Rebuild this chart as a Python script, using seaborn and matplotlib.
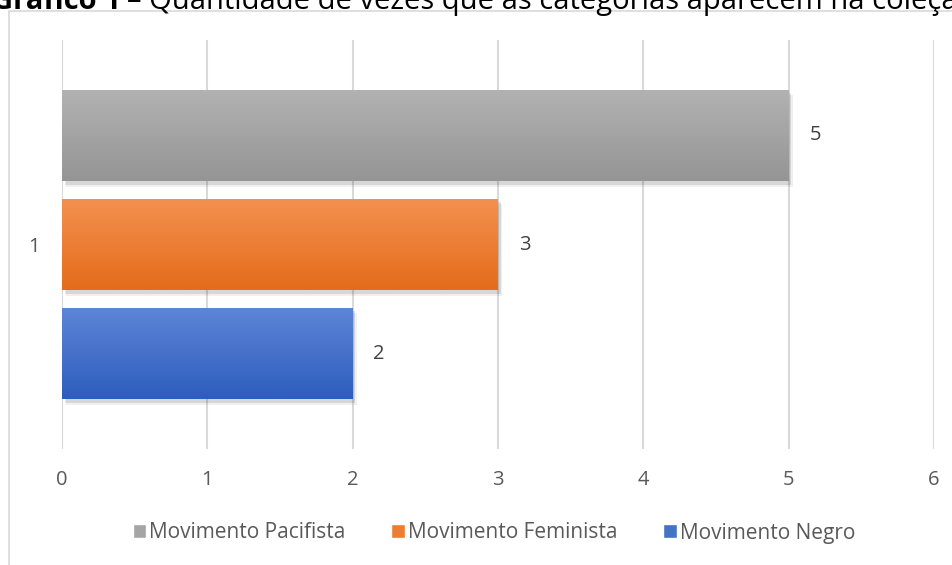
#!/usr/bin/env python3
import numpy as np
import pandas as pd
import matplotlib
matplotlib.use("Agg")
import matplotlib.pyplot as plt
import matplotlib.patheffects as pe
from matplotlib.patches import Rectangle
from matplotlib.colors import LinearSegmentedColormap
import seaborn as sns

category = ["1", "1", "1"]
series = ["Movimento Pacifista", "Movimento Feminista", "Movimento Negro"]
counts = [5, 3, 2]
colors = ["#A5A5A5", "#ED7D31", "#4472C4"]
grad_top = ["#B2B2B2", "#F4914F", "#5D86D7"]
grad_bottom = ["#959595", "#E46C1B", "#2D5DBD"]
xticks = [0, 1, 2, 3, 4, 5, 6]

df = pd.DataFrame({"Categoria": category, "Série": series, "Quantidade": counts})

sns.set_style("white")
plt.rcParams["font.family"] = ["Open Sans", "DejaVu Sans"]

fig = plt.figure(figsize=(9.52, 5.65), dpi=100)
ax = fig.add_axes([62 / 952, 1 - 449 / 565, (934 - 62) / 952, (449 - 40) / 565])

sns.barplot(
    data=df, y="Categoria", x="Quantidade", hue="Série",
    hue_order=series, palette=colors, orient="h",
    gap=0.16, ax=ax, errorbar=None, saturation=1,
)

# gradient fill + soft shadow on each bar
for patch, top, bot in zip(ax.patches, grad_top, grad_bottom):
    patch.set_edgecolor("none")
    patch.set_path_effects([
        pe.SimplePatchShadow(offset=(3, -4), shadow_rgbFace="#000000", alpha=0.06),
        pe.SimplePatchShadow(offset=(2, -2.5), shadow_rgbFace="#000000", alpha=0.10),
        pe.Normal(),
    ])
    x0, y0 = patch.get_x(), patch.get_y()
    w, h = patch.get_width(), patch.get_height()
    cmap = LinearSegmentedColormap.from_list("g", [top, bot])
    im = ax.imshow(np.linspace(0, 1, 64).reshape(-1, 1), cmap=cmap, aspect="auto",
                   extent=(x0, x0 + w, y0 + h, y0), zorder=patch.get_zorder() + 0.1)
    im.set_clip_path(patch)

for cont in ax.containers:
    ax.bar_label(cont, padding=15, fontsize=14.5, color="#404040")

ax.set_xlim(0, 6)
ax.set_ylim(0.5, -0.5)
ax.set_xticks(xticks)
ax.set_xlabel("")
ax.set_ylabel("")
ax.xaxis.grid(True, color="#D9D9D9", linewidth=1.5)
ax.set_axisbelow(True)
for s in ax.spines.values():
    s.set_visible(False)
ax.tick_params(axis="x", length=0, pad=15, labelsize=14.5, labelcolor="#595959")
ax.tick_params(axis="y", length=0, pad=16, labelsize=14.5, labelcolor="#595959")

leg = ax.legend(loc="center", bbox_to_anchor=(494 / 952, 1 - 533 / 565),
                bbox_transform=fig.transFigure, ncol=3, frameon=False,
                fontsize=15, handlelength=0.65, handleheight=0.65,
                handletextpad=0.15, columnspacing=2.2)
for t in leg.get_texts():
    t.set_color("#595959")

# chart area border (partially cropped, like the original)
fig.patches.append(Rectangle((9 / 952, -0.05), 1.0, 1 - 11 / 565 + 0.05,
                             transform=fig.transFigure, fill=False,
                             edgecolor="#D9D9D9", linewidth=1.2))

# title, cropped at the top of the image as in the original
t1 = fig.text(-8 / 952, 1 - 9 / 565, "Gráfico 1", fontsize=21, fontweight="bold",
              va="baseline", ha="left", color="#000000")
fig.canvas.draw()
bb = t1.get_window_extent()
fig.text(bb.x1 / fig.bbox.width + 6 / 952, 1 - 9 / 565,
         "– Quantidade de vezes que as categorias aparecem na coleção",
         fontsize=21, va="baseline", ha="left", color="#000000")

fig.savefig("out.png", dpi=100)
